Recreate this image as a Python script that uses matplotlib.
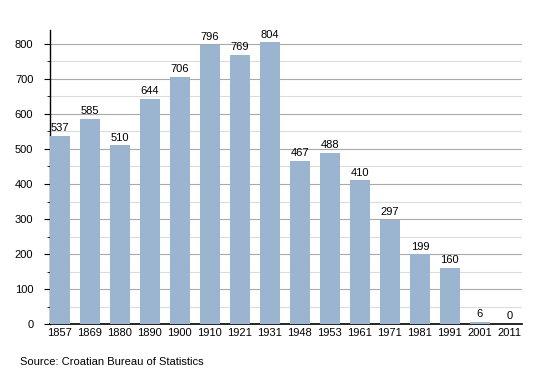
import numpy as np
import matplotlib
matplotlib.use("Agg")
import matplotlib.pyplot as plt
from matplotlib.ticker import MultipleLocator

plt.rcParams['font.family'] = ['Liberation Sans', 'DejaVu Sans']

years = ['1857', '1869', '1880', '1890', '1900', '1910', '1921', '1931',
         '1948', '1953', '1961', '1971', '1981', '1991', '2001', '2011']
population = [537, 585, 510, 644, 706, 796, 769, 804,
              467, 488, 410, 297, 199, 160, 6, 0]

fig = plt.figure(figsize=(5.5, 3.73), dpi=100)
ax = fig.add_axes([0.0909, 0.131, 0.858, 0.789])

x = np.arange(len(years))
bars = ax.bar(x, population, width=0.68, color='#9bb4d0', zorder=3)

for xi, v in zip(x, population):
    ax.text(xi, v + 8, str(v), ha='center', va='bottom', fontsize=8, zorder=4)

ax.set_xlim(-0.33, 15.4)
ax.set_ylim(0, 840)
ax.yaxis.set_major_locator(MultipleLocator(100))
ax.yaxis.set_minor_locator(MultipleLocator(50))
ax.grid(axis='y', which='major', color='#a8a8a8', linewidth=0.8, zorder=0)
ax.grid(axis='y', which='minor', color='#dcdcdc', linewidth=0.8, zorder=0)

ax.set_xticks(x)
ax.set_xticklabels(years)
ax.tick_params(axis='x', length=0, labelsize=8, pad=3)
ax.tick_params(axis='y', which='major', length=4, labelsize=8, pad=8)
ax.tick_params(axis='y', which='minor', length=2)

for s in ['top', 'right']:
    ax.spines[s].set_visible(False)
ax.spines['left'].set_linewidth(1.0)
ax.spines['bottom'].set_linewidth(1.2)

fig.text(0.036, 0.022, 'Source: Croatian Bureau of Statistics', fontsize=8)

fig.savefig('out.png', dpi=100)
